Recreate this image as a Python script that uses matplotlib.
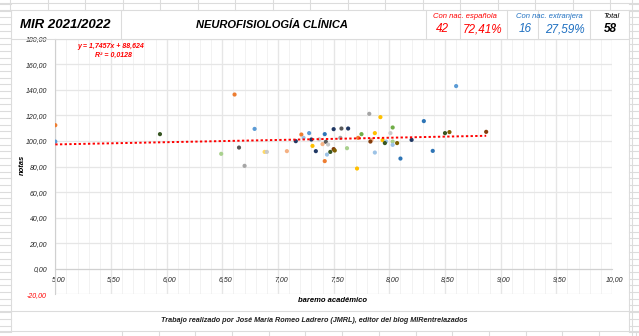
import matplotlib
matplotlib.use("Agg")
import matplotlib.pyplot as plt
from matplotlib.lines import Line2D
from matplotlib.ticker import MultipleLocator, FuncFormatter
import numpy as np

plt.rcParams["font.family"] = ["Liberation Sans", "DejaVu Sans"]

# --- Data: baremo académico vs nota ---
baremo = [5.00, 5.00, 5.94, 6.61, 6.79, 6.65, 6.49, 6.88, 6.90, 6.70,
          7.21, 7.23, 7.28, 7.16, 7.30, 7.08, 7.31, 7.34, 7.42, 7.50,
          7.57, 7.63, 7.37, 7.40, 7.43, 7.45, 7.44, 7.47, 7.50, 7.51,
          7.42, 7.56, 7.62, 7.82, 7.92, 7.75, 7.72, 7.87, 7.84, 7.83,
          8.01, 8.03, 7.94, 7.97, 7.96, 8.03, 8.03, 8.07, 8.20, 8.10,
          7.87, 7.71, 8.60, 8.31, 8.50, 8.54, 8.87, 8.39]
notas = [112.4, 99.6, 105.4, 136.4, 109.5, 94.9, 90.0, 91.5, 91.5, 80.6,
         105.1, 102.5, 106.2, 99.9, 101.2, 92.1, 96.2, 92.1, 105.4, 109.3,
         109.8, 109.8, 101.4, 97.6, 99.4, 97.3, 89.4, 91.5, 93.7, 92.6,
         84.3, 102.5, 94.4, 121.3, 118.7, 105.4, 102.5, 106.2, 100.9, 99.6,
         106.2, 110.6, 100.7, 99.6, 98.4, 99.6, 97.0, 98.4, 100.9, 86.3,
         91.0, 78.5, 143.0, 115.6, 106.2, 107.0, 107.2, 92.3]

# one colour per candidate (Excel palette, as in the picture)
OR, BL, LB, NV = "#ED7D31", "#2E75B6", "#9DC3E6", "#203864"
DG, GR, LG, YE = "#595959", "#A5A5A5", "#C9C9C9", "#FFC000"
LY, PE, GN, LGN = "#FFD966", "#F4B183", "#70AD47", "#A9D18E"
DGN, DR, OL, BL2 = "#375623", "#843C0C", "#7F6000", "#5B9BD5"
colors = [OR, BL2, DGN, OR, BL2, DG, LGN, LY, LG, GR,
          OR, LB, BL2, NV, NV, PE, YE, NV, BL, NV,
          DG, NV, LG, PE, DG, LG, LB, DGN, DR, OL,
          OR, GR, LGN, GR, YE, GN, OR, YE, PE, DR,
          LG, GN, YE, LB, DGN, LGN, LB, OL, NV, BL,
          LB, YE, BL2, BL, DGN, OL, DR, BL]

# trendline shown on the chart
slope, intercept = 1.7457, 88.624
trend_label = "y = 1,7457x + 88,624"
r2_label = "R² = 0,0128"

W, H = 639, 336
fig = plt.figure(figsize=(W / 100, H / 100), dpi=100)


def fx(x):
    return x / W


def fy(y):
    return 1 - y / H


def hline(y, x0, x1, c="#dcdcdc", lw=0.8):
    fig.add_artist(Line2D([fx(x0), fx(x1)], [fy(y), fy(y)], color=c, lw=lw))


def vline(x, y0, y1, c="#dcdcdc", lw=0.8):
    fig.add_artist(Line2D([fx(x), fx(x)], [fy(y0), fy(y1)], color=c, lw=lw))


# --- spreadsheet cells around the chart ---
for x in np.arange(10, 640, 37.5):
    vline(x, 0, 10)
for x in np.arange(122, 640, 36.7):
    vline(x, 331, 336)
for y in np.arange(4, 336, 6.7):
    hline(y, 0, 11)
    hline(y, 629, 639)
vline(632, 0, 336)
hline(3, 0, 639)
hline(10, 0, 639)
hline(39, 11, 629)
hline(311, 0, 639)
hline(331, 0, 639)
vline(11, 10, 331)
vline(629, 10, 331)
for x in [121, 426, 460, 507, 538, 590]:
    vline(x, 10, 39)

# --- header ---
fig.text(fx(65), fy(25), "MIR 2021/2022", fontsize=9.5, fontweight="bold",
         fontstyle="italic", ha="center", va="center")
fig.text(fx(272), fy(25), "NEUROFISIOLOGÍA CLÍNICA", fontsize=8, fontweight="bold",
         fontstyle="italic", ha="center", va="center")
red, blue = "#FF0000", "#1F70C1"
fig.text(fx(465), fy(16), "Con nac. española", fontsize=5.5, fontstyle="italic",
         color=red, ha="center", va="center")
fig.text(fx(442), fy(29), "42", fontsize=8.5, fontstyle="italic", color=red,
         ha="center", va="center")
fig.text(fx(483), fy(29), "72,41%", fontsize=8.5, fontstyle="italic", color=red,
         ha="center", va="center")
fig.text(fx(549), fy(16), "Con nac. extranjera", fontsize=5.5, fontstyle="italic",
         color=blue, ha="center", va="center")
fig.text(fx(525), fy(29), "16", fontsize=8.5, fontstyle="italic", color=blue,
         ha="center", va="center")
fig.text(fx(565), fy(29), "27,59%", fontsize=8.5, fontstyle="italic", color=blue,
         ha="center", va="center")
fig.text(fx(611), fy(16), "Total", fontsize=5.5, fontstyle="italic",
         ha="center", va="center")
fig.text(fx(610), fy(29), "58", fontsize=8.5, fontstyle="italic", fontweight="bold",
         ha="center", va="center")

# --- plot area ---
left, right, top, bottom = 55.3, 612, 38.8, 294.4
ax = fig.add_axes([fx(left), fy(bottom), (right - left) / W, (bottom - top) / H])
ax.set_xlim(5, 10)
ax.set_ylim(-20, 180)

for xv in np.arange(5, 10.001, 0.1):
    major = abs(xv * 2 - round(xv * 2)) < 1e-6
    ax.axvline(xv, color="#e6e6e6" if major else "#f2f2f2",
               lw=1.0 if major else 0.7, zorder=0)
for yv in range(-20, 181, 20):
    ax.axhline(yv, color="#e6e6e6", lw=0.9, zorder=0)

for s in ["top", "right"]:
    ax.spines[s].set_visible(False)
ax.spines["bottom"].set_position(("data", 0))
ax.spines["bottom"].set_color("#d0d0d0")
ax.spines["left"].set_color("#d0d0d0")

ax.scatter(baremo, notas, c=colors, s=9, marker="o", linewidths=0, zorder=3)

xt = np.array([min(baremo), max(baremo)])
ax.plot(xt, slope * xt + intercept, color="#FF0000", lw=1.4,
        linestyle=(0, (1.2, 1.2)), zorder=4)

ax.xaxis.set_major_locator(MultipleLocator(0.5))
ax.yaxis.set_major_locator(MultipleLocator(20))
comma = FuncFormatter(lambda v, p: f"{v:.2f}".replace(".", ","))
ax.xaxis.set_major_formatter(comma)
ax.yaxis.set_major_formatter(comma)
ax.tick_params(length=0, labelsize=5)
ax.tick_params(axis="y", pad=6)
ax.tick_params(axis="x", pad=5)

fig.canvas.draw()
for lab in ax.get_yticklabels() + ax.get_xticklabels():
    lab.set_fontstyle("italic")
    lab.set_color("#262626")
for t in ax.yaxis.get_major_ticks():
    if t.get_loc() < 0:
        t.label1.set_color("#FF0000")
# nudge x labels a bit right, like in the original
off = matplotlib.transforms.ScaledTranslation(0.03, 0, fig.dpi_scale_trans)
for lab in ax.get_xticklabels():
    lab.set_transform(lab.get_transform() + off)

fig.text(fx(22), fy(165), "notas", fontsize=5.5, fontweight="bold",
         fontstyle="italic", rotation=90, ha="center", va="center")
fig.text(fx(333), fy(301), "baremo académico", fontsize=5.5, fontweight="bold",
         fontstyle="italic", ha="center", va="center")
fig.text(fx(111), fy(47), trend_label, fontsize=5, fontweight="bold",
         fontstyle="italic", color="#FF0000", ha="center", va="center")
fig.text(fx(113), fy(55.5), r2_label, fontsize=5, fontweight="bold",
         fontstyle="italic", color="#FF0000", ha="center", va="center")

fig.text(fx(314), fy(321), "Trabajo realizado por José María Romeo Ladrero (JMRL), "
         "editor del blog MIRentrelazados", fontsize=5.2, fontweight="bold",
         fontstyle="italic", color="#222222", ha="center", va="center")

plt.savefig("out.png", dpi=100)
